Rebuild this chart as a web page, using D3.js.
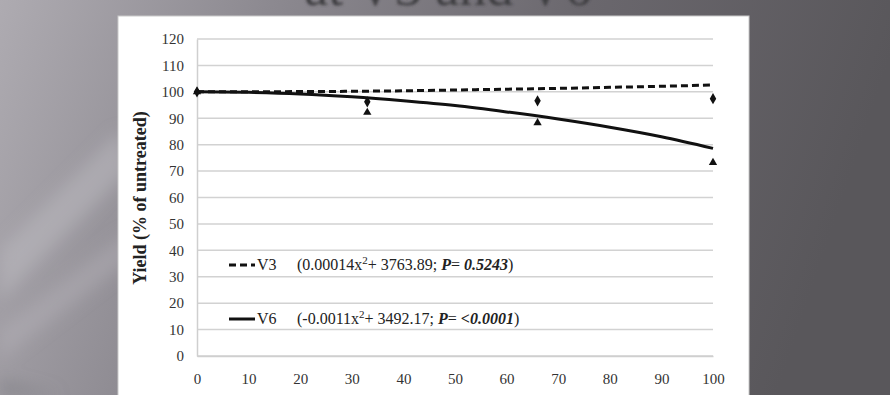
<!DOCTYPE html>
<html>
<head>
<meta charset="utf-8">
<script src="https://cdn.jsdelivr.net/npm/d3@7"></script>
<style>
  html, body { margin: 0; padding: 0; }
  body { width: 890px; height: 395px; overflow: hidden; }
</style>
</head>
<body>
<div id="chart"></div>
<script>
// observed yields (diamonds = V3, triangles = V6)
const obsRate = [0, 33, 66, 100];
const v3Obs = [100, 96.2, 96.6, 97.4];
const v6Obs = [100, 92.2, 88.3, 73.2];

// fitted curves
const fitRate = [0, 10, 20, 30, 40, 50, 60, 70, 80, 90, 100];
const v3Fit = [100, 100, 100.1, 100.2, 100.4, 100.7, 101, 101.3, 101.7, 102.1, 102.6];
const v6Fit = [100, 99.8, 99.2, 98.1, 96.6, 94.8, 92.4, 89.7, 86.6, 83, 78.6];

const yTicks = [0, 10, 20, 30, 40, 50, 60, 70, 80, 90, 100, 110, 120];
const xTicks = [0, 10, 20, 30, 40, 50, 60, 70, 80, 90, 100];

const w = 890, h = 395;
const serif = "'Liberation Serif', 'Times New Roman', serif";

const svg = d3.select("#chart").append("svg")
  .attr("width", w).attr("height", h);

// slide background
const defs = svg.append("defs");
const bg = defs.append("linearGradient").attr("id", "bg")
  .attr("x1", "0").attr("y1", "0").attr("x2", "1").attr("y2", "0.15");
bg.append("stop").attr("offset", "0").attr("stop-color", "#aeabb1");
bg.append("stop").attr("offset", "0.3").attr("stop-color", "#8c8990");
bg.append("stop").attr("offset", "0.65").attr("stop-color", "#6a676d");
bg.append("stop").attr("offset", "1").attr("stop-color", "#59575b");
defs.append("filter").attr("id", "blur")
  .append("feGaussianBlur").attr("stdDeviation", 1.4);
defs.append("filter").attr("id", "soft")
  .append("feGaussianBlur").attr("stdDeviation", 8);

svg.append("rect").attr("width", w).attr("height", h).attr("fill", "url(#bg)");

// light streaks at the left
const streaks = svg.append("g").attr("filter", "url(#soft)");
streaks.append("path").attr("d", "M0,250 L120,130 L130,170 L0,300 Z")
  .attr("fill", "#c2bfc5").attr("opacity", 0.45);
streaks.append("path").attr("d", "M0,330 L130,230 L130,260 L0,360 Z")
  .attr("fill", "#b8b5bb").attr("opacity", 0.4);
streaks.append("path").attr("d", "M0,380 L60,395 L0,395 Z")
  .attr("fill", "#7c7980").attr("opacity", 0.6);

// slide title, mostly above the window as in the reference
svg.append("text")
  .attr("x", 448).attr("y", 5)
  .attr("text-anchor", "middle")
  .style("font-family", serif)
  .style("font-size", "54px")
  .attr("fill", "#3e3c41")
  .attr("filter", "url(#blur)")
  .text("at V3 and V6");

// white chart panel
svg.append("rect")
  .attr("x", 118).attr("y", 16).attr("width", 631).attr("height", 390)
  .attr("fill", "#fff").attr("stroke", "#c9c9c9").attr("stroke-width", 1);

const x = d3.scaleLinear().domain([0, 100]).range([197, 713]);
const y = d3.scaleLinear().domain([0, 120]).range([356, 39]);

// grid lines
svg.append("g").selectAll("line").data(yTicks).enter().append("line")
  .attr("x1", x(0)).attr("x2", x(100))
  .attr("y1", (d) => y(d)).attr("y2", (d) => y(d))
  .attr("stroke", "#d2d2d2").attr("stroke-width", 1.5);

// axes
const yAxis = d3.axisLeft(y).tickValues(yTicks).tickSize(0).tickPadding(13);
svg.append("g").attr("transform", "translate(" + x(0) + ",0)").call(yAxis)
  .call((g) => g.select(".domain").attr("stroke", "#cfcfcf").attr("stroke-width", 1.5))
  .selectAll("text")
  .style("font-family", serif).style("font-size", "15px").attr("fill", "#333");

const xAxis = d3.axisBottom(x).tickValues(xTicks).tickSize(0).tickPadding(17);
svg.append("g").attr("transform", "translate(0," + y(0) + ")").call(xAxis)
  .call((g) => g.select(".domain").attr("stroke", "#cfcfcf").attr("stroke-width", 1.5))
  .selectAll("text")
  .style("font-family", serif).style("font-size", "15px").attr("fill", "#333");

svg.append("text")
  .attr("transform", "translate(146,198) rotate(-90)")
  .attr("text-anchor", "middle")
  .style("font-family", serif).style("font-size", "18px").style("font-weight", "bold")
  .attr("fill", "#222")
  .text("Yield (% of untreated)");

// fitted curves
const line = d3.line()
  .x((d) => x(d[0])).y((d) => y(d[1]))
  .curve(d3.curveMonotoneX);

svg.append("path")
  .attr("d", line(fitRate.map((r, i) => [r, v6Fit[i]])))
  .attr("fill", "none").attr("stroke", "#111").attr("stroke-width", 3);

svg.append("path")
  .attr("d", line(fitRate.map((r, i) => [r, v3Fit[i]])))
  .attr("fill", "none").attr("stroke", "#111").attr("stroke-width", 3)
  .attr("stroke-dasharray", "7,4");

// observed points
svg.append("g").selectAll("path").data(obsRate).enter().append("path")
  .attr("transform", (d, i) => "translate(" + x(d) + "," + y(v3Obs[i]) + ")")
  .attr("d", d3.symbol().type(d3.symbolDiamond).size(36))
  .attr("fill", "#111");

svg.append("g").selectAll("path").data(obsRate).enter().append("path")
  .attr("transform", (d, i) => "translate(" + x(d) + "," + y(v6Obs[i]) + ")")
  .attr("d", d3.symbol().type(d3.symbolTriangle).size(30))
  .attr("fill", "#111");

// legend
const legend = [
  { name: "V3", dash: "7,4", eq: "(0.00014x", c: "+ 3763.89; ", p: "0.5243", ly: 265 },
  { name: "V6", dash: null, eq: "(-0.0011x", c: "+ 3492.17; ", p: "<0.0001", ly: 319 }
];

legend.forEach((d) => {
  svg.append("line")
    .attr("x1", 229).attr("x2", 255).attr("y1", d.ly).attr("y2", d.ly)
    .attr("stroke", "#111").attr("stroke-width", 3)
    .attr("stroke-dasharray", d.dash);
  svg.append("text")
    .attr("x", 257).attr("y", d.ly + 5)
    .style("font-family", serif).style("font-size", "16px").attr("fill", "#222")
    .text(d.name);
  const t = svg.append("text")
    .attr("x", 297).attr("y", d.ly + 5)
    .style("font-family", serif).style("font-size", "16px").attr("fill", "#222");
  t.append("tspan").text(d.eq);
  t.append("tspan").attr("dy", -6).style("font-size", "11px").text("2");
  t.append("tspan").attr("dy", 6).text(d.c);
  t.append("tspan").style("font-style", "italic").style("font-weight", "bold").text("P");
  t.append("tspan").text("= ");
  t.append("tspan").style("font-style", "italic").style("font-weight", "bold").text(d.p);
  t.append("tspan").text(")");
});
</script>
</body>
</html>
